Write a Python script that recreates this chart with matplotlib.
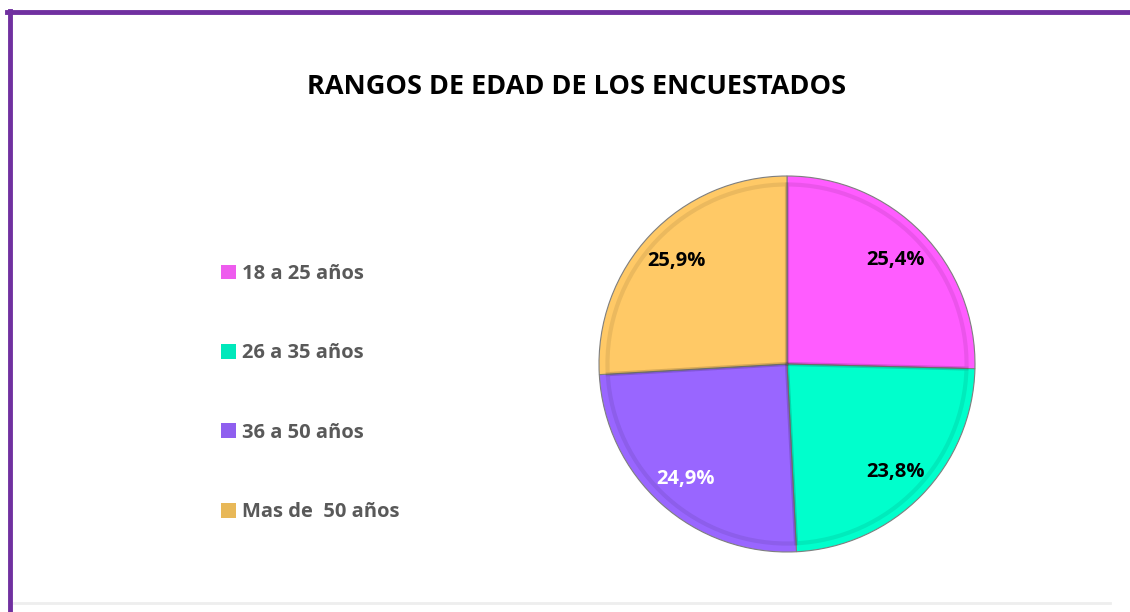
import numpy as np
import matplotlib.pyplot as plt
from matplotlib.patches import Patch

categorias = ['18 a 25 años', '26 a 35 años', '36 a 50 años', 'Mas de  50 años']
porcentajes = [25.4, 23.8, 24.9, 25.9]
etiquetas = ['25,4%', '23,8%', '24,9%', '25,9%']
colores = ['#FF5CFF', '#00FFCC', '#9966FF', '#FFC966']
colores_leyenda = ['#EE5CEE', '#00E8BB', '#8F5FEF', '#E8B858']
color_texto = ['black', 'black', 'white', 'black']

plt.rcParams['font.family'] = ['Open Sans', 'DejaVu Sans']

fig = plt.figure(figsize=(11.3, 6.12), dpi=100)

# pie centred at (787, 364) px, radius 188 px
cx, cy, half = 787, 364, 200
ax = fig.add_axes([(cx - half) / 1130, (612 - cy - half) / 612, 2 * half / 1130, 2 * half / 612])
wedges, _ = ax.pie(porcentajes, colors=colores, startangle=90, counterclock=False,
                   radius=1.0, wedgeprops=dict(edgecolor='#7f7f7f', linewidth=0.8))
# slight inner bevel
ax.pie(porcentajes, startangle=90, counterclock=False, radius=0.955,
       wedgeprops=dict(edgecolor=(0, 0, 0, 0.08), linewidth=3, fill=False))

ang = 90.0
for p, t, c in zip(porcentajes, etiquetas, color_texto):
    mid = np.deg2rad(ang - p * 3.6 / 2)
    ax.text(0.81 * np.cos(mid), 0.81 * np.sin(mid) - 0.01, t, ha='center', va='center',
            fontsize=14.5, fontweight='bold', color=c)
    ang -= p * 3.6
lim = half / 188
ax.set_xlim(-lim, lim)
ax.set_ylim(-lim, lim)
ax.set_aspect('equal')
ax.axis('off')

fig.text(577 / 1130, 1 - 87 / 612, 'RANGOS DE EDAD DE LOS ENCUESTADOS', ha='center', va='center',
         fontsize=19.5, fontweight='bold', color='black')

handles = [Patch(facecolor=c, edgecolor='none') for c in colores_leyenda]
leg = fig.legend(handles, categorias, loc='upper left', bbox_to_anchor=(221 / 1130, 1 - 264 / 612),
                 frameon=False, fontsize=14.5, labelspacing=2.95, handlelength=0.75, handleheight=0.75,
                 handletextpad=0.3, borderpad=0, borderaxespad=0)
for txt in leg.get_texts():
    txt.set_color('#595959')
    txt.set_fontweight('bold')

# purple frame (top and left)
fig.add_artist(plt.Line2D([7 / 1130, 1], [1 - 12 / 612, 1 - 12 / 612], color='#7030A0', linewidth=3.5))
fig.add_artist(plt.Line2D([9.5 / 1130, 9.5 / 1130], [0, 1 - 11 / 612], color='#7030A0', linewidth=3.5))
fig.add_artist(plt.Line2D([14 / 1130, 1110 / 1130], [1 - 603 / 612, 1 - 603 / 612], color='#eeeeee', linewidth=2))

fig.savefig('out.png', dpi=100)
